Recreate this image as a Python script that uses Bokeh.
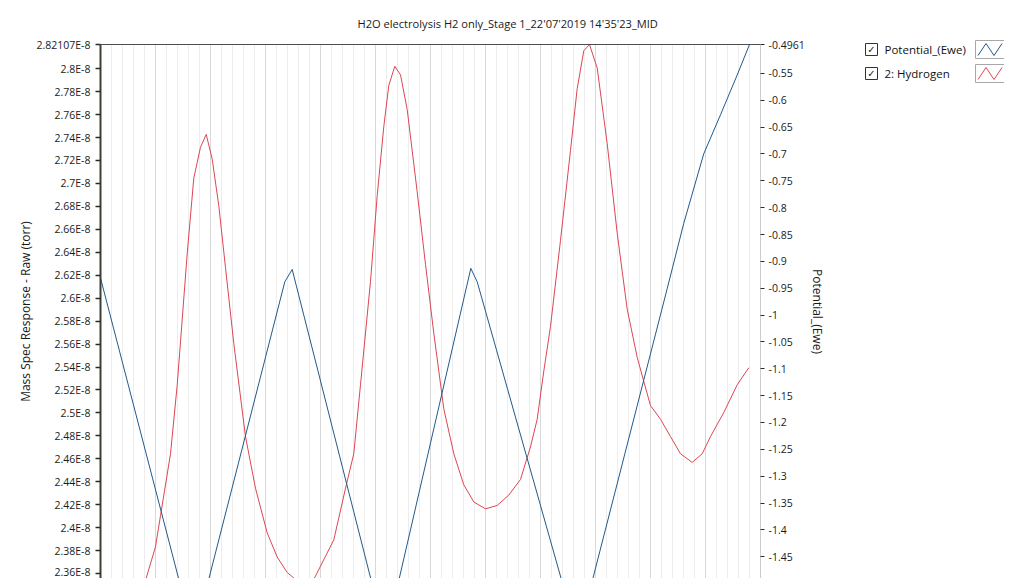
from bokeh.plotting import figure
from bokeh.layouts import row, column
from bokeh.models import (Range1d, LinearAxis, FixedTicker, CustomJSTickFormatter,
                          Grid, ColumnDataSource)
from bokeh.core.properties import value
from bokeh.embed import file_html
from bokeh.resources import INLINE

# ---------------- data ----------------
TITLE = "H2O electrolysis H2 only_Stage 1_22'07'2019 14'35'23_MID"
LEFT_LABEL = "Mass Spec Response - Raw (torr)"
RIGHT_LABEL = "Potential_(Ewe)"
SERIES_NAMES = ["Potential_(Ewe)", "2: Hydrogen"]

# Potential_(Ewe), volts
pot_x = [0.0, 1.698, 3.351, 3.485, 5.185, 6.733, 6.849, 8.678, 10.303,
         10.605, 10.967, 11.273, 11.576, 11.8]
pot_v = [-0.931, -1.600, -0.938, -0.915, -1.600, -0.913, -0.938, -1.600, -0.951,
         -0.829, -0.700, -0.627, -0.553, -0.4961]

# 2: Hydrogen, torr (values in units of 1E-8 torr)
h2_x = [0.0, 0.5, 0.818, 1.0, 1.091, 1.273, 1.395, 1.576, 1.696, 1.818, 1.922,
        2.031, 2.151, 2.273, 2.424, 2.636, 2.818, 3.031, 3.213, 3.395, 3.545,
        3.709, 3.878, 4.242, 4.455, 4.605, 4.727, 4.909, 5.031, 5.151, 5.242,
        5.351, 5.455, 5.576, 5.758, 5.909, 6.060, 6.242, 6.424, 6.605, 6.787,
        7.0, 7.213, 7.424, 7.636, 7.818, 7.940, 8.060, 8.182, 8.364, 8.545,
        8.667, 8.787, 8.891, 9.031, 9.213, 9.395, 9.576, 9.758, 9.878, 10.0,
        10.182, 10.364, 10.545, 10.758, 10.940, 11.091, 11.333, 11.576, 11.787]
h2_e8 = [2.330, 2.335, 2.3540, 2.3834, 2.4104, 2.4644, 2.5245, 2.6385, 2.7045,
         2.7315, 2.7427, 2.7211, 2.6805, 2.6265, 2.5604, 2.4795, 2.4344, 2.3954,
         2.3744, 2.3609, 2.3549, 2.3523, 2.3549, 2.3894, 2.4344, 2.4644, 2.5245,
         2.6145, 2.6895, 2.7496, 2.7855, 2.8021, 2.7946, 2.7645, 2.6926, 2.6295,
         2.5695, 2.5035, 2.4644, 2.4374, 2.4224, 2.4164, 2.4194, 2.4284, 2.4420,
         2.4704, 2.4945, 2.5365, 2.5754, 2.6505, 2.7286, 2.7826, 2.8156, 2.82107,
         2.8005, 2.7346, 2.6565, 2.5905, 2.5485, 2.5274, 2.5064, 2.4945, 2.4794,
         2.4644, 2.4569, 2.4644, 2.4794, 2.5004, 2.5245, 2.5394]
h2_torr = [v * 1e-8 for v in h2_e8]

left_ticks = [2.82107e-8, 2.80e-8, 2.78e-8, 2.76e-8, 2.74e-8, 2.72e-8, 2.70e-8,
              2.68e-8, 2.66e-8, 2.64e-8, 2.62e-8, 2.60e-8, 2.58e-8, 2.56e-8,
              2.54e-8, 2.52e-8, 2.50e-8, 2.48e-8, 2.46e-8, 2.44e-8, 2.42e-8,
              2.40e-8, 2.38e-8, 2.36e-8]
right_ticks = [-0.4961, -0.55, -0.6, -0.65, -0.7, -0.75, -0.8, -0.85, -0.9, -0.95,
               -1.0, -1.05, -1.1, -1.15, -1.2, -1.25, -1.3, -1.35, -1.4, -1.45]
x_major = list(range(0, 13))
x_minor = [i / 5 for i in range(0, 61)]

LEFT_RANGE = (2.35571e-8, 2.82107e-8)
RIGHT_RANGE = (-1.4905, -0.4961)
X_RANGE = (0, 12)

BLUE = "#215a8c"
RED = "#dc4652"
FONT = "Open Sans"

# ---------------- main figure ----------------
p = figure(frame_width=660, frame_height=534, x_range=Range1d(*X_RANGE),
           y_range=Range1d(*LEFT_RANGE), x_axis_location=None,
           y_axis_location="left", toolbar_location=None, output_backend="svg",
           min_border_left=100, min_border_right=80, min_border_top=44,
           min_border_bottom=0, outline_line_color=None, background_fill_color="white")
p.extra_y_ranges = {"pot": Range1d(*RIGHT_RANGE)}

p.title.text = TITLE
p.title.align = "left"
p.title.offset = 257
p.title.standoff = 27
p.title.text_font = FONT
p.title.text_font_size = "11.1px"
p.title.text_font_style = "normal"
p.title.text_color = "#1a1a1a"

# grid
p.grid.visible = False
xg = Grid(dimension=0, ticker=FixedTicker(ticks=x_major, minor_ticks=x_minor),
          grid_line_color="#d8d8d8", minor_grid_line_color="#ededed",
          grid_line_width=1, minor_grid_line_width=1)
p.add_layout(xg)

# left axis
ya = p.yaxis[0]
ya.ticker = FixedTicker(ticks=left_ticks)
ya.formatter = CustomJSTickFormatter(code="return parseFloat((tick*1e8).toFixed(5)) + 'E-8';")
ya.axis_label = LEFT_LABEL
ya.axis_label_text_font = FONT
ya.axis_label_text_font_size = "12px"
ya.axis_label_text_font_style = "normal"
ya.axis_label_text_color = "#1a1a1a"
ya.axis_label_standoff = 0
ya.major_label_text_font = FONT
ya.major_label_text_font_size = "10.5px"
ya.major_label_text_color = "#1a1a1a"
ya.major_label_standoff = 5
ya.major_tick_out = 5
ya.major_tick_in = 0
ya.minor_tick_out = 0
ya.minor_tick_in = 0
ya.major_tick_line_color = "#2a2a2a"
ya.major_tick_line_width = 1.5
ya.axis_line_color = "#3c4232"
ya.axis_line_width = 2

# right axis
ra = LinearAxis(y_range_name="pot", ticker=FixedTicker(ticks=right_ticks),
                formatter=CustomJSTickFormatter(code="return String(parseFloat(tick.toFixed(4)));"),
                axis_label=RIGHT_LABEL)
ra.axis_label_text_font = FONT
ra.axis_label_text_font_size = "12px"
ra.axis_label_text_font_style = "normal"
ra.axis_label_text_color = "#1a1a1a"
ra.axis_label_standoff = 1
ra.major_label_text_font = FONT
ra.major_label_text_font_size = "10.5px"
ra.major_label_text_color = "#1a1a1a"
ra.major_label_standoff = 4
ra.major_tick_out = 4
ra.major_tick_in = 0
ra.minor_tick_out = 0
ra.minor_tick_in = 0
ra.major_tick_line_color = "#2a2a2a"
ra.axis_line_color = "#cccccc"
p.add_layout(ra, "right")

# top border line
ta = LinearAxis(ticker=FixedTicker(ticks=[]), axis_line_color="#4d4d4d",
                major_tick_out=0, major_tick_in=0, minor_tick_out=0, minor_tick_in=0,
                major_label_standoff=0, major_label_text_font_size="0px")
p.add_layout(ta, "above")

src_h2 = ColumnDataSource(dict(x=h2_x, y=h2_torr))
src_pot = ColumnDataSource(dict(x=pot_x, y=pot_v))
p.line("x", "y", source=src_h2, line_color=RED, line_width=1)
p.line("x", "y", source=src_pot, line_color=BLUE, line_width=1, y_range_name="pot")

# ---------------- legend figure ----------------
LW, LH = 164, 578
lg = figure(width=LW, height=LH, x_range=Range1d(0, LW), y_range=Range1d(LH, 0),
            x_axis_location=None, y_axis_location=None, toolbar_location=None,
            output_backend="svg", min_border=0, outline_line_color=None)
lg.grid.visible = False

row_y = [49, 73]
box_x = 31
label_x = 44
sw_x, sw_w, sw_h = 149.5, 29, 18
colors = [BLUE, RED]

lg.rect(x=[box_x] * 2, y=row_y, width=12, height=12, fill_color="white",
        line_color="#333333", line_width=1)
lg.text(x=[box_x] * 2, y=row_y, text=["\u2713"] * 2, text_font=value("DejaVu Sans"),
        text_font_size="10px", text_align="center", text_baseline="middle",
        text_color="#222222")
lg.text(x=[label_x] * 2, y=row_y, text=SERIES_NAMES, text_font=value(FONT),
        text_font_size="11.5px", text_align="left", text_baseline="middle",
        text_color="#111111")
lg.rect(x=[sw_x] * 2, y=row_y, width=sw_w, height=sw_h, fill_color="white",
        line_color="#a8a8a8", line_width=1)
for yc, c in zip(row_y, colors):
    xs = [sw_x - 12, sw_x - 4, sw_x + 4, sw_x + 12]
    ys = [yc + 6, yc - 6, yc + 6, yc - 6]
    lg.line(xs, ys, line_color=c, line_width=1)

layout = row(p, column(lg))
open("out.html", "w").write(file_html(layout, INLINE))
